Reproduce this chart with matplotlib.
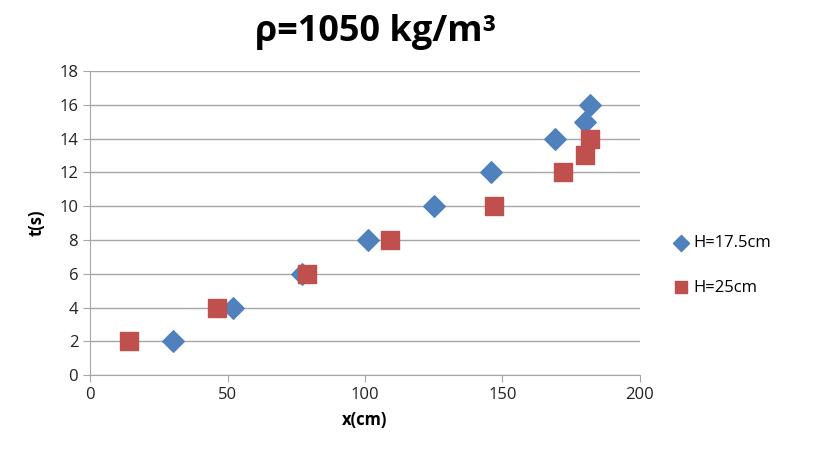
import matplotlib
matplotlib.use("Agg")
import matplotlib.pyplot as plt

# H=17.5cm series
x_a = [30, 52, 77, 101, 125, 146, 169, 180, 182]
t_a = [2, 4, 6, 8, 10, 12, 14, 15, 16]
# H=25cm series
x_b = [14, 46, 79, 109, 147, 172, 180, 182]
t_b = [2, 4, 6, 8, 10, 12, 13, 14]

plt.rcParams['font.family'] = ['Open Sans', 'DejaVu Sans']

fig = plt.figure(figsize=(8.16, 4.58), dpi=100)
ax = fig.add_axes([0.1103, 0.181, 0.674, 0.664])

ax.scatter(x_a, t_a, marker='D', s=120, color='#4F81BD', label='H=17.5cm', zorder=3)
ax.scatter(x_b, t_b, marker='s', s=150, color='#C0504D', label='H=25cm', zorder=3)

ax.set_xlim(0, 200)
ax.set_ylim(0, 18)
ax.set_xticks(range(0, 201, 50))
ax.set_yticks(range(0, 19, 2))
ax.grid(axis='y', color='#A6A6A6', linewidth=1)
ax.set_axisbelow(True)
for s in ['top', 'right']:
    ax.spines[s].set_visible(False)
for s in ['left', 'bottom']:
    ax.spines[s].set_color('#A6A6A6')
ax.tick_params(colors='#A6A6A6', labelcolor='#222222', labelsize=12, length=5)

ax.set_xlabel('x(cm)', fontsize=12, fontweight='bold', labelpad=6)
ax.set_ylabel('t(s)', fontsize=12, fontweight='bold', labelpad=10)
fig.suptitle('ρ=1050 kg/m³', x=0.46, y=0.97, fontsize=26, fontweight='bold')

ax.legend(loc='center left', bbox_to_anchor=(1.03, 0.36), frameon=False,
          fontsize=12, labelspacing=1.7, handletextpad=0.1, handlelength=1.2,
          markerscale=0.75)

fig.savefig('out.png', dpi=100)
